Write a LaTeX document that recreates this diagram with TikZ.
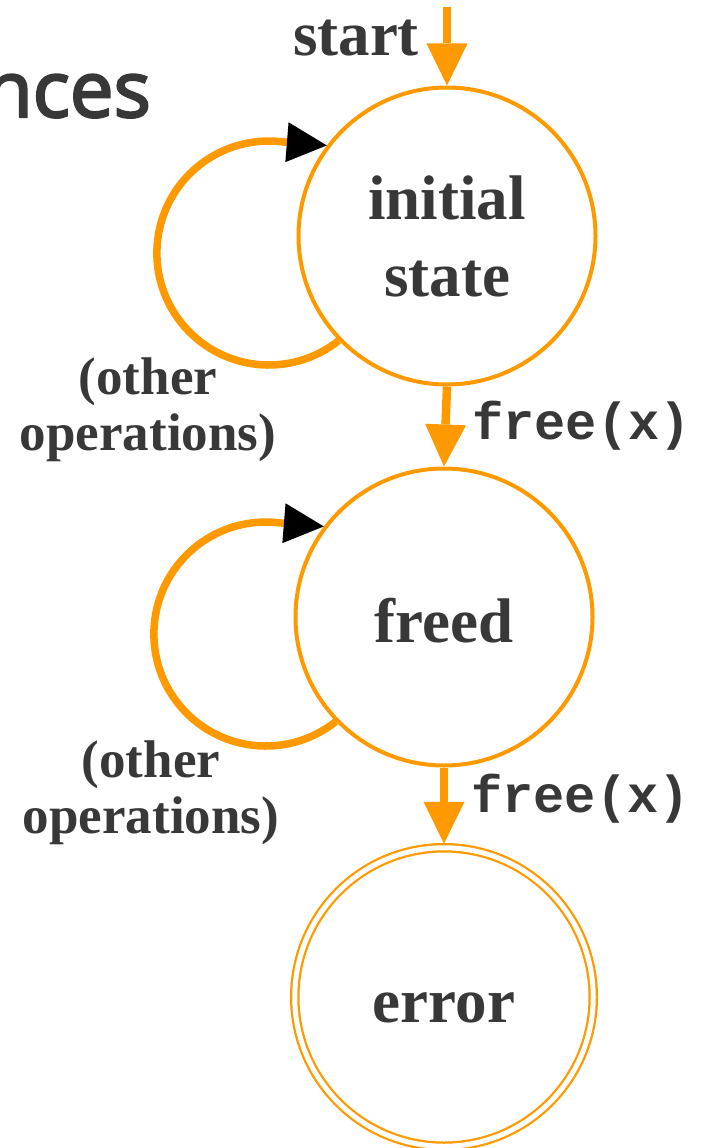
\documentclass[tikz,border=0pt]{standalone}
\usepackage{fontspec}
\setmainfont{Liberation Serif}
\newfontfamily\codefont{Liberation Mono}
\newfontfamily\headfont[FakeBold=3]{Open Sans}
\usetikzlibrary{arrows.meta}
\definecolor{fsmorange}{HTML}{FF9900}
\definecolor{ink}{HTML}{383838}

\begin{document}
\begin{tikzpicture}[x=1pt,y=1pt,
  every node/.style={text=ink},
  stateshape/.style={circle, draw=fsmorange, line width=4pt,
    minimum size=297pt, inner sep=0pt, align=center,
    font=\bfseries\fontsize{63}{77}\selectfont},
  oneline/.style={text height=50pt, text depth=0pt},
  acceptshape/.style={circle, draw=fsmorange, double=white,
    double distance=5pt, line width=2.25pt, minimum size=298.5pt,
    inner sep=0pt, outer sep=4pt, text height=50pt, text depth=0pt,
    font=\bfseries\fontsize{63}{77}\selectfont},
  trans/.style={draw=fsmorange, line width=8.5pt,
    -{Triangle[length=42pt,width=41pt,line width=0pt]}},
  selfloop/.style={draw=fsmorange, line width=7.5pt,
    -{Triangle[length=40pt,width=40pt,line width=0pt,color=black]}},
  translabel/.style={inner sep=0pt, anchor=base west, xshift=23pt,
    font=\codefont\bfseries\fontsize{52}{52}\selectfont},
  looplabel/.style={inner sep=0pt, anchor=north, align=center,
    font=\bfseries\fontsize{53}{56}\selectfont},
  starttext/.style={inner sep=0pt, anchor=base,
    font=\bfseries\fontsize{63}{63}\selectfont}
]
\fill[white] (0,0) rectangle (703,-1148);
\useasboundingbox (0,0) rectangle (703,-1148);

% heading fragment running off the left edge
\node[inner sep=0pt, anchor=base east,
  font=\headfont\fontsize{78}{78}\selectfont] (heading) at (151,-117) {nces};

% states
\node[stateshape] (init) at (447,-236) {initial\\state};
\node[stateshape, oneline] (freed) at (444,-617) {freed};
\node[acceptshape] (error) at (444,-997) {error};

% entry arrow
\coordinate (entry) at (447,-7);
\node[starttext] (startlbl) at (356,-56) {start};
\draw[trans] (entry) -- (init.north);

% transitions
\draw[trans] (init.south) -- (freed.north)
  node[translabel, pos=0.667] (f1) {free(x)};
\draw[trans] (freed.south) -- (error.north)
  node[translabel, pos=0.59] (f2) {free(x)};

% self loops
\draw[selfloop] (init.224) arc[start angle=-51.4, end angle=-277, radius=112]
  -- (init.143);
\draw[selfloop] (freed.224) arc[start angle=-51.4, end angle=-277, radius=112]
  -- (freed.143);

\node[looplabel] (ops1) at (148,-358) {(other\\operations)};
\node[looplabel] (ops2) at (151,-741) {(other\\operations)};
\end{tikzpicture}
\end{document}
